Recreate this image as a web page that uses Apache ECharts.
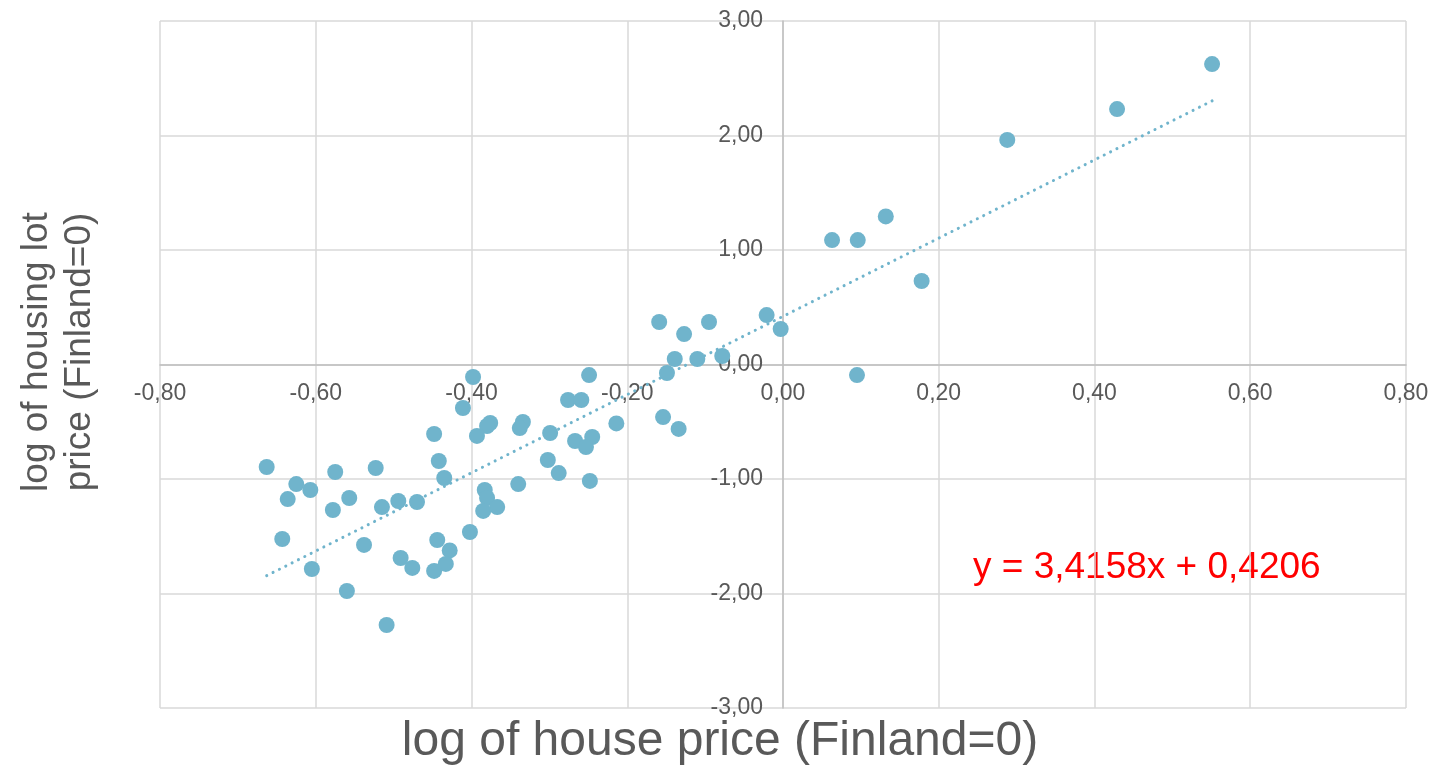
<!DOCTYPE html>
<html>
<head>
<meta charset="utf-8">
<script src="https://cdn.jsdelivr.net/npm/echarts@6/dist/echarts.min.js"></script>
<style>html,body{margin:0;padding:0;background:#fff}#c{width:1433px;height:765px}</style>
</head>
<body>
<div id="c"></div>
<script>
// log of house price (Finland=0)
const housePrice = [
  0.551, 0.429, 0.288, 0.132, 0.096, 0.063, 0.178, 0.095, -0.021, -0.003,
  -0.095, -0.127, -0.159, -0.139, -0.110, -0.078, -0.149, -0.154, -0.134, -0.214,
  -0.249, -0.276, -0.259, -0.245, -0.267, -0.253, -0.248, -0.299, -0.302, -0.288,
  -0.334, -0.338, -0.340, -0.376, -0.380, -0.393, -0.398, -0.411, -0.383, -0.380,
  -0.367, -0.385, -0.402, -0.428, -0.433, -0.448, -0.444, -0.435, -0.442, -0.448,
  -0.470, -0.476, -0.491, -0.494, -0.509, -0.515, -0.523, -0.538, -0.557, -0.560,
  -0.575, -0.578, -0.605, -0.607, -0.625, -0.636, -0.643, -0.663
];
// log of housing lot price (Finland=0)
const lotPrice = [
  2.624, 2.231, 1.961, 1.293, 1.087, 1.087, 0.729, -0.092, 0.432, 0.310,
  0.371, 0.266, 0.371, 0.048, 0.048, 0.074, -0.074, -0.459, -0.563, -0.515,
  -0.092, -0.310, -0.310, -0.633, -0.668, -0.721, -1.017, -0.598, -0.834, -0.948,
  -0.502, -0.555, -1.044, -0.511, -0.537, -0.624, -0.109, -0.380, -1.096, -1.166,
  -1.245, -1.279, -1.463, -1.624, -1.742, -1.803, -1.533, -0.991, -0.843, -0.607,
  -1.201, -1.777, -1.690, -1.192, -2.275, -1.245, -0.904, -1.576, -1.166, -1.978,
  -0.939, -1.271, -1.786, -1.096, -1.044, -1.175, -1.524, -0.895
];
// linear trendline coefficients (as shown on chart)
const trendSlope = 3.4158;
const trendIntercept = 0.4206;
const equationLabel = 'y = 3,4158x + 0,4206';
const xTitle = 'log of house price (Finland=0)';
const yTitle = 'log of housing lot\nprice (Finland=0)';

const points = housePrice.map((x, i) => [x, lotPrice[i]]);
const xMin = Math.min(...housePrice), xMax = Math.max(...housePrice);
const trend = [[xMin, trendSlope * xMin + trendIntercept], [xMax, trendSlope * xMax + trendIntercept]];

const FONT = "'Liberation Sans', Arial, sans-serif";
const fmt = v => v.toFixed(2).replace('.', ',');
const col = '#70b4cc';

const GL = 160, GR = 27, GT = 21, GB = 57;
const W = 1433, H = 765;
const X_MIN = -0.8, X_MAX = 0.8, Y_MIN = -3, Y_MAX = 3;
// offsets placing the axes (line + labels) at the zero crossing
const plotW = W - GL - GR, plotH = H - GT - GB;
const yZeroFromBottom = (0 - Y_MIN) / (Y_MAX - Y_MIN) * plotH;
const xZeroFromLeft = (0 - X_MIN) / (X_MAX - X_MIN) * plotW;

const chart = echarts.init(document.getElementById('c'));
chart.setOption({
  animation: false,
  backgroundColor: '#ffffff',
  grid: { left: GL, right: GR, top: GT, bottom: GB, containLabel: false },
  xAxis: {
    type: 'value', min: X_MIN, max: X_MAX, interval: 0.2,
    offset: -yZeroFromBottom,
    axisLine: { onZero: false, lineStyle: { color: '#bfbfbf', width: 1.5 } },
    axisTick: { show: false },
    axisLabel: { formatter: fmt, color: '#595959', fontSize: 23, fontFamily: FONT, margin: 18, showMinLabel: true, showMaxLabel: true },
    splitLine: { show: true, lineStyle: { color: '#d9d9d9', width: 1.5 } }
  },
  yAxis: {
    type: 'value', min: Y_MIN, max: Y_MAX, interval: 1,
    offset: -xZeroFromLeft,
    axisLine: { show: true, onZero: false, lineStyle: { color: '#bfbfbf', width: 1.5 } },
    axisTick: { show: false },
    axisLabel: { formatter: fmt, color: '#595959', fontSize: 23, fontFamily: FONT, margin: 20, showMinLabel: true, showMaxLabel: true },
    splitLine: { show: true, lineStyle: { color: '#d9d9d9', width: 1.5 } }
  },
  series: [
    {
      type: 'line', data: trend, symbol: 'none', silent: true, z: 3,
      lineStyle: { color: col, width: 3, type: [0.1, 7], cap: 'round' }
    },
    {
      type: 'scatter', data: points, symbol: 'circle', symbolSize: 16, z: 4,
      itemStyle: { color: col, opacity: 1 }
    }
  ],
  graphic: [
    { type: 'text', x: 58, y: 352, rotation: Math.PI / 2,
      style: { text: yTitle, x: 0, y: 0, align: 'center', verticalAlign: 'middle', fill: '#595959', font: '37px ' + FONT, lineHeight: 43 } },
    { type: 'text', x: 720, y: 742,
      style: { text: xTitle, x: 0, y: 0, align: 'center', verticalAlign: 'middle', fill: '#595959', font: '48px ' + FONT } },
    { type: 'text', x: 973, y: 568,
      style: { text: equationLabel, x: 0, y: 0, align: 'left', verticalAlign: 'middle', fill: '#ff0000', font: '37px ' + FONT } }
  ]
});
</script>
</body>
</html>
